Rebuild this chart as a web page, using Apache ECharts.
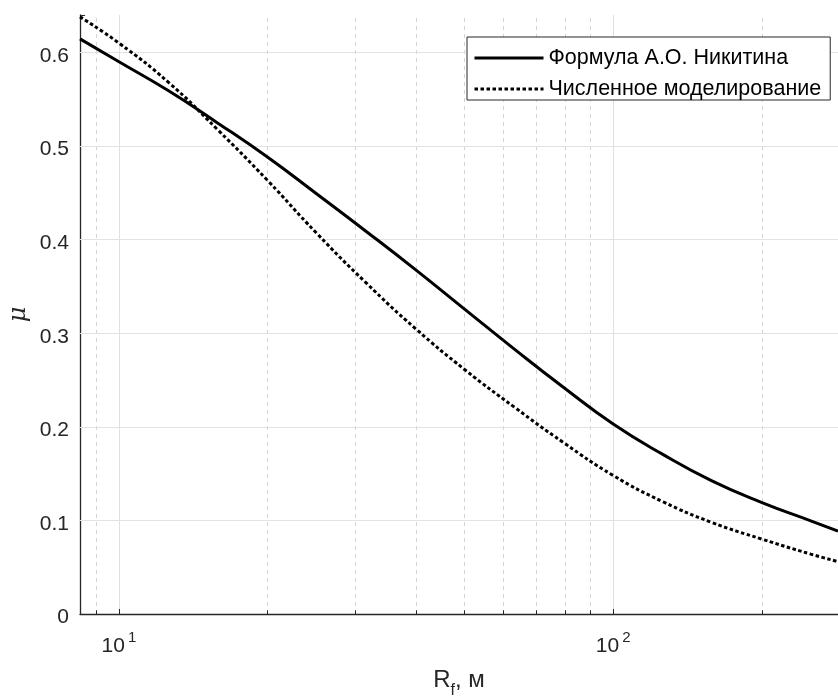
<!DOCTYPE html>
<html>
<head>
<meta charset="utf-8">
<script src="https://cdn.jsdelivr.net/npm/echarts@6/dist/echarts.min.js"></script>
<style>
  html, body { margin: 0; padding: 0; background: #fff; }
  #chart { width: 838px; height: 700px; }
</style>
</head>
<body>
<div id="chart"></div>
<script>
// R_f, м
var rf = [8.34, 10, 12.6, 15.8, 20, 25.1, 31.6, 39.8, 50.1, 63.1, 79.4, 100, 126, 158, 200, 251, 285];
// Формула А.О. Никитина
var muFormula = [0.6145, 0.590, 0.559, 0.525, 0.488, 0.449, 0.409, 0.368, 0.3255, 0.283, 0.242,
    0.203, 0.1705, 0.1425, 0.119, 0.0995, 0.0885];
// Численное моделирование
var muModel = [0.638, 0.610, 0.568, 0.518, 0.463, 0.407, 0.354, 0.305, 0.261, 0.221, 0.183,
    0.148, 0.120, 0.098, 0.080, 0.064, 0.056];

var seriesNames = ['Формула А.О. Никитина', 'Численное моделирование'];
var xMinorTicks = [9, 20, 30, 40, 50, 60, 70, 80, 90, 200];
var yGrid = [0.1, 0.2, 0.3, 0.4, 0.5, 0.6];

var chart = echarts.init(document.getElementById('chart'));

function pairs(xs, ys) {
    return xs.map(function (x, i) { return [x, ys[i]]; });
}

// сетка: второстепенные линии по x пунктиром, основные по y сплошные
var gridLines = [];
xMinorTicks.forEach(function (v) {
    gridLines.push({ xAxis: v, lineStyle: { color: '#d4d4d4', type: [4, 4], width: 1 } });
});
yGrid.forEach(function (v) {
    gridLines.push({ yAxis: v, lineStyle: { color: '#e3e3e3', type: 'solid', width: 1 } });
});
// мелкие засечки на оси x
xMinorTicks.forEach(function (v) {
    gridLines.push([
        { coord: [v, 0], lineStyle: { color: '#262626', type: 'solid', width: 1 } },
        { coord: [v, 0.004] }
    ]);
});

var solidStyle = { color: '#000', width: 3 };
var dotStyle = { color: '#000', width: 3, type: [3.5, 2.5] };

var option = {
    animation: false,
    textStyle: { fontFamily: 'Liberation Sans' },
    grid: { left: 80, right: 0, top: 15, bottom: 86, outerBoundsMode: 'none' },
    legend: {
        data: [
            { name: seriesNames[0], lineStyle: solidStyle },
            { name: seriesNames[1], lineStyle: dotStyle }
        ],
        orient: 'vertical',
        left: 467,
        top: 37,
        z: 10,
        padding: [10, 9, 0, 6],
        itemGap: 9,
        itemWidth: 69,
        itemHeight: 21,
        backgroundColor: '#fff',
        borderColor: '#262626',
        borderWidth: 1,
        itemStyle: { opacity: 0 },
        textStyle: { fontSize: 21.5, color: '#000', fontFamily: 'Liberation Sans' }
    },
    xAxis: {
        type: 'log',
        logBase: 10,
        min: 8.34,
        max: 285,
        name: '{r|R}{sub|f}{r|, м}',
        nameLocation: 'middle',
        nameGap: 54,
        nameMoveOverlap: false,
        nameTextStyle: {
            color: '#262626',
            rich: {
                r: { fontSize: 24, lineHeight: 24, verticalAlign: 'top', color: '#262626' },
                sub: { fontSize: 16, lineHeight: 31, verticalAlign: 'bottom', color: '#262626' }
            }
        },
        axisLine: { lineStyle: { color: '#262626', width: 1.3 } },
        axisTick: { inside: true, length: 5, lineStyle: { color: '#262626' } },
        splitLine: { show: true, lineStyle: { color: '#e0e0e0', width: 1 } },
        axisLabel: {
            margin: 16,
            color: '#262626',
            formatter: function (v) {
                var e = Math.log10(v);
                if (Math.abs(e - Math.round(e)) > 1e-6) return '';
                return '{b|10}{s|' + Math.round(e) + '}';
            },
            rich: {
                b: { fontSize: 21, lineHeight: 27, verticalAlign: 'bottom', color: '#262626' },
                s: { fontSize: 15, lineHeight: 12, verticalAlign: 'top', padding: [0, 0, 0, 3], color: '#262626' }
            }
        }
    },
    yAxis: {
        type: 'value',
        min: 0,
        max: 0.64,
        interval: 0.1,
        name: 'μ',
        nameLocation: 'middle',
        nameRotate: 90,
        nameGap: 49,
        nameMoveOverlap: false,
        nameTextStyle: { fontSize: 24, fontStyle: 'italic', fontFamily: 'DejaVu Serif', color: '#262626' },
        axisLine: { show: true, lineStyle: { color: '#262626', width: 1.3 } },
        axisTick: { show: true, inside: true, length: 5, lineStyle: { color: '#262626' } },
        splitLine: { show: false },
        axisLabel: {
            margin: 11,
            color: '#262626',
            formatter: function (v) {
                return v > 0.6001 ? '' : '{v|' + (+v.toFixed(1)) + '}';
            },
            rich: {
                v: { fontSize: 21, lineHeight: 28, verticalAlign: 'bottom', color: '#262626' }
            }
        }
    },
    series: [{
        name: 'grid',
        type: 'line',
        data: [],
        z: 1,
        silent: true,
        markLine: {
            z: 1,
            silent: true,
            symbol: ['none', 'none'],
            label: { show: false },
            emphasis: { disabled: true },
            data: gridLines
        }
    }, {
        name: seriesNames[0],
        type: 'line',
        data: pairs(rf, muFormula),
        smooth: true,
        symbol: 'none',
        z: 3,
        color: '#000',
        lineStyle: solidStyle
    }, {
        name: seriesNames[1],
        type: 'line',
        data: pairs(rf, muModel),
        smooth: true,
        symbol: 'none',
        z: 3,
        color: '#000',
        lineStyle: dotStyle
    }]
};

chart.setOption(option);
</script>
</body>
</html>
